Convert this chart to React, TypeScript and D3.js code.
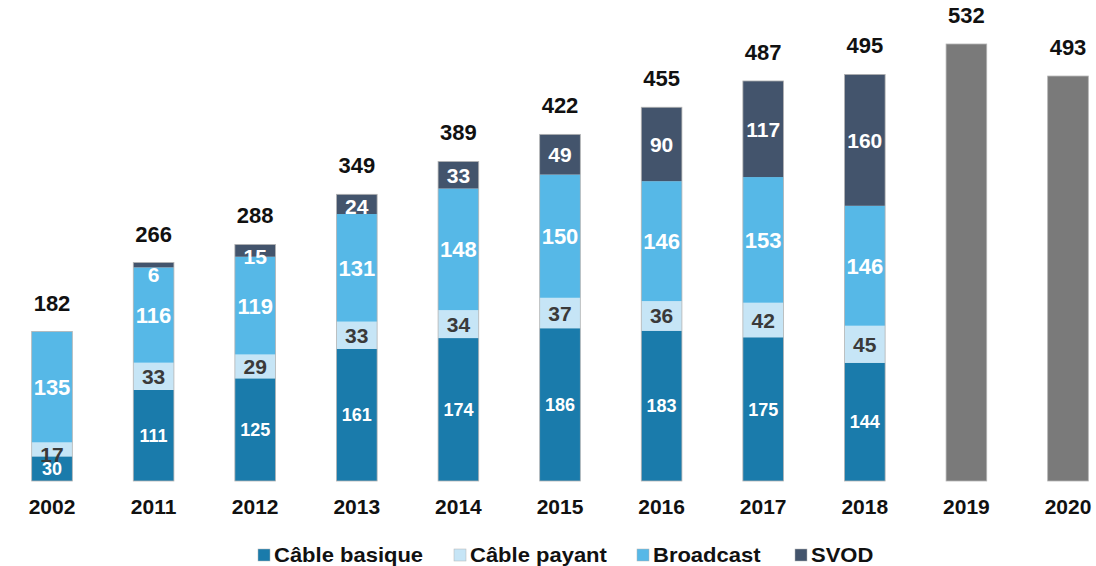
import React from 'react';
import * as d3 from 'd3';

// values
const years = ['2002', '2011', '2012', '2013', '2014', '2015', '2016', '2017', '2018', '2019', '2020'];
const cableBasique = [30, 111, 125, 161, 174, 186, 183, 175, 144, 0, 0];
const cablePayant = [17, 33, 29, 33, 34, 37, 36, 42, 45, 0, 0];
const broadcast = [135, 116, 119, 131, 148, 150, 146, 153, 146, 0, 0];
const svod = [0, 6, 15, 24, 33, 49, 90, 117, 160, 0, 0];
const projection = [0, 0, 0, 0, 0, 0, 0, 0, 0, 532, 493];
const totals = [182, 266, 288, 349, 389, 422, 455, 487, 495, 532, 493];

const seriesKeys = ['basique', 'payant', 'broadcast', 'svod'];
const seriesNames = ['Câble basique', 'Câble payant', 'Broadcast', 'SVOD'];
const seriesColors = ['#1a7bab', '#c6e5f6', '#56b8e7', '#43546c'];
const labelColors = ['#ffffff', '#3a3a3a', '#ffffff', '#ffffff'];
const labelSizes = [18, 21, 22, 21];

const W = 1096;
const H = 566;
const FONT = '"Liberation Sans", Arial, sans-serif';

const App = () => {
  const rows = years.map((y, i) => ({
    year: y,
    basique: cableBasique[i],
    payant: cablePayant[i],
    broadcast: broadcast[i],
    svod: svod[i]
  }));

  const stacked = d3.stack<any>().keys(seriesKeys)(rows);

  const x = d3.scalePoint().domain(years).range([52, 1068]);
  const barW = x.step() * 0.4;
  const y = d3.scaleLinear().domain([0, 532]).range([481, 44]);

  const legendX = [258, 454, 637, 795];

  return (
    <svg
      width={W}
      height={H}
      style={{ position: 'absolute', left: 0, top: 0, background: '#fff' }}
      fontFamily={FONT}
    >
      {stacked.map((s, si) => (
        <g key={s.key}>
          {s.map((d, i) => {
            const v = d[1] - d[0];
            if (!v) return null;
            const x0 = x(years[i])! - barW / 2;
            const top = y(d[1]);
            const bottom = y(d[0]);
            const fs = labelSizes[si];
            const cy = Math.max((top + bottom) / 2, top + 12);
            return (
              <g key={i}>
                <rect x={x0} y={top} width={barW} height={bottom - top} fill={seriesColors[si]} />
                <text
                  x={x(years[i])}
                  y={cy + fs * 0.36}
                  textAnchor="middle"
                  fontWeight="bold"
                  fontSize={fs}
                  fill={labelColors[si]}
                >
                  {v}
                </text>
              </g>
            );
          })}
        </g>
      ))}

      {projection.map((v, i) =>
        v ? (
          <rect
            key={'p' + i}
            x={x(years[i])! - barW / 2}
            y={y(v)}
            width={barW}
            height={y(0) - y(v)}
            fill="#7a7a7a"
          />
        ) : null
      )}

      {/* thin outline round each bar */}
      {totals.map((t, i) => (
        <rect
          key={'o' + i}
          x={x(years[i])! - barW / 2}
          y={y(t)}
          width={barW}
          height={y(0) - y(t)}
          fill="none"
          stroke="#b3b3b3"
          strokeWidth={0.8}
        />
      ))}

      {totals.map((t, i) => (
        <text
          key={'t' + i}
          x={x(years[i])}
          y={y(t) - 21}
          textAnchor="middle"
          fontWeight="bold"
          fontSize={22}
          fill="#111"
        >
          {t}
        </text>
      ))}

      {years.map(yr => (
        <text key={yr} x={x(yr)} y={514} textAnchor="middle" fontWeight="bold" fontSize={21} fill="#111">
          {yr}
        </text>
      ))}

      {seriesNames.map((n, i) => (
        <g key={n} transform={`translate(${legendX[i]},555)`}>
          <rect x={0} y={-6} width={12} height={12} fill={seriesColors[i]} stroke="#b3b3b3" strokeWidth={0.5} />
          <text transform="translate(16,7) scale(1.1,1)" fontWeight="bold" fontSize={20} fill="#111">
            {n}
          </text>
        </g>
      ))}
    </svg>
  );
};

export default App;
